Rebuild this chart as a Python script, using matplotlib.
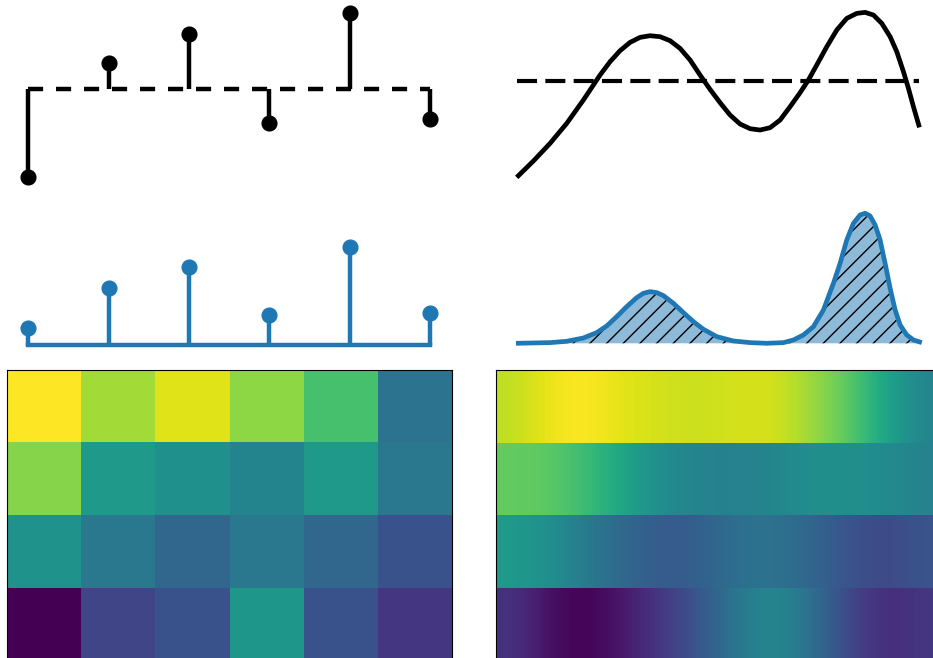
import numpy as np
import matplotlib
matplotlib.use("Agg")
import matplotlib.pyplot as plt

# ---------------- data ----------------
stem_x = [0, 1, 2, 3, 4, 5]
signed_values = [-3.52, 1.02, 2.18, -1.38, 3.02, -1.21]
positive_values = [0.69, 2.29, 3.13, 1.20, 3.91, 1.27]

curve_x = [0.000, 0.414, 0.828, 1.242, 1.656, 1.904, 2.070, 2.318, 2.566, 2.815,
           3.063, 3.311, 3.560, 3.808, 4.056, 4.305, 4.553, 4.801, 5.050, 5.298,
           5.546, 5.795, 6.043, 6.291, 6.540, 6.788, 7.036, 7.243, 7.450, 7.699,
           7.947, 8.195, 8.444, 8.651, 8.858, 9.065, 9.272, 9.437, 9.603, 9.727,
           9.851, 10.000]
curve_y = [-3.867, -3.213, -2.507, -1.707, -0.773, -0.173, 0.227, 0.760, 1.200, 1.533,
           1.733, 1.800, 1.760, 1.600, 1.293, 0.827, 0.227, -0.347, -0.880, -1.373,
           -1.733, -1.920, -1.973, -1.880, -1.573, -1.040, -0.480, 0.027, 0.627, 1.360,
           2.027, 2.493, 2.693, 2.733, 2.627, 2.293, 1.760, 1.160, 0.360, -0.307,
           -1.040, -1.867]

density_x = [-0.017, 0.828, 1.242, 1.656, 1.987, 2.235, 2.483, 2.732, 2.980, 3.146,
             3.311, 3.477, 3.642, 3.891, 4.139, 4.387, 4.636, 4.967, 5.381, 5.795,
             6.209, 6.623, 6.871, 7.119, 7.368, 7.616, 7.864, 8.030, 8.195, 8.361,
             8.526, 8.651, 8.775, 8.899, 9.023, 9.147, 9.272, 9.396, 9.520, 9.685,
             9.851, 10.058]
density_y = [0.000, 0.027, 0.080, 0.213, 0.427, 0.693, 1.067, 1.467, 1.827, 2.000,
             2.067, 2.027, 1.907, 1.600, 1.227, 0.867, 0.560, 0.267, 0.093, 0.027,
             0.000, 0.027, 0.133, 0.333, 0.667, 1.333, 2.400, 3.200, 4.133, 4.800,
             5.133, 5.200, 5.093, 4.733, 4.133, 3.200, 2.200, 1.333, 0.733, 0.333,
             0.133, 0.027]

heat_row0 = [1.00, 0.86, 0.95, 0.83, 0.71, 0.38]
heat_row1 = [0.82, 0.54, 0.50, 0.45, 0.54, 0.40]
heat_row2 = [0.51, 0.40, 0.33, 0.40, 0.33, 0.25]
heat_row3 = [0.00, 0.21, 0.25, 0.53, 0.25, 0.16]

smooth_row0 = [0.90, 0.98, 1.00, 0.95, 0.93, 0.92, 0.935, 0.94, 0.85, 0.75, 0.58, 0.44]
smooth_row1 = [0.76, 0.75, 0.68, 0.58, 0.48, 0.44, 0.44, 0.45, 0.50, 0.50, 0.48, 0.44]
smooth_row2 = [0.54, 0.50, 0.40, 0.33, 0.28, 0.30, 0.37, 0.38, 0.33, 0.25, 0.22, 0.26]
smooth_row3 = [0.15, 0.03, 0.00, 0.07, 0.17, 0.27, 0.40, 0.48, 0.37, 0.21, 0.12, 0.16]

# ---------------- figure ----------------
W, H = 933, 658
fig = plt.figure(figsize=(W / 100, H / 100), dpi=100)


def px_axes(x0, y0, x1, y1):
    return fig.add_axes([x0 / W, 1 - y1 / H, (x1 - x0) / W, (y1 - y0) / H])


LW = 3.2
MS = 10.6

# top-left: stem with dashed baseline
ax1 = px_axes(6, 0, 452, 190)
m, s, b = ax1.stem(stem_x, signed_values, linefmt="k-", markerfmt="ko", basefmt="k-", bottom=0)
m.set_markersize(MS)
s.set_linewidth(LW)
b.set_linewidth(LW)
b.set_linestyle((0, (3.4, 2.9)))
b.set_dash_capstyle("butt")
ax1.set_xlim(-0.2776, 5.274)
ax1.set_ylim(-4.052, 3.548)
ax1.axis("off")

# middle-left: blue stem
ax3 = px_axes(6, 190, 452, 360)
m, s, b = ax3.stem(stem_x, positive_values, linefmt="C0-", markerfmt="C0o", basefmt="C0-", bottom=0)
m.set_markersize(MS)
s.set_linewidth(LW)
b.set_linewidth(LW)
ax3.set_xlim(-0.2776, 5.274)
ax3.set_ylim(-0.6, 6.2)
ax3.axis("off")

# top-right: curve with dashed mean line
ax2 = px_axes(496, 0, 942, 190)
ax2.plot(curve_x, curve_y, color="black", lw=3.4, solid_capstyle="butt", solid_joinstyle="round")
ax2.plot([0, 10], [0, 0], color="black", lw=3.0, linestyle=(0, (4.8, 2.0)), dash_capstyle="butt")
ax2.set_xlim(-0.514, 10.56)
ax2.set_ylim(-4.372, 3.228)
ax2.axis("off")

# middle-right: hatched density
ax4 = px_axes(496, 190, 942, 360)
ax4.fill_between(density_x, density_y, 0, facecolor=(31 / 255, 119 / 255, 180 / 255, 0.5),
                 edgecolor="black", linewidth=0, hatch="//")
ax4.plot(density_x, density_y, color="C0", lw=3.4, solid_capstyle="butt", solid_joinstyle="round")
ax4.set_xlim(-0.514, 10.56)
ax4.set_ylim(-0.668, 6.132)
ax4.axis("off")

# bottom-left: nearest heatmap
ax5 = px_axes(6.5, 370, 452, 661.2)
ax5.imshow([heat_row0, heat_row1, heat_row2, heat_row3], cmap="viridis", vmin=0, vmax=1,
           aspect="auto", interpolation="nearest")
ax5.set_xticks([])
ax5.set_yticks([])

# bottom-right: smoothly interpolated rows
ax6 = px_axes(496, 370, 942, 661.2)
for r, row in enumerate([smooth_row0, smooth_row1, smooth_row2, smooth_row3]):
    ax6.imshow([row], cmap="viridis", vmin=0, vmax=1, aspect="auto",
               interpolation="bicubic", extent=(0, len(row), r + 1, r))
ax6.set_xlim(0, len(smooth_row0))
ax6.set_ylim(4, 0)
ax6.set_xticks([])
ax6.set_yticks([])

fig.savefig("out.png", dpi=100)
